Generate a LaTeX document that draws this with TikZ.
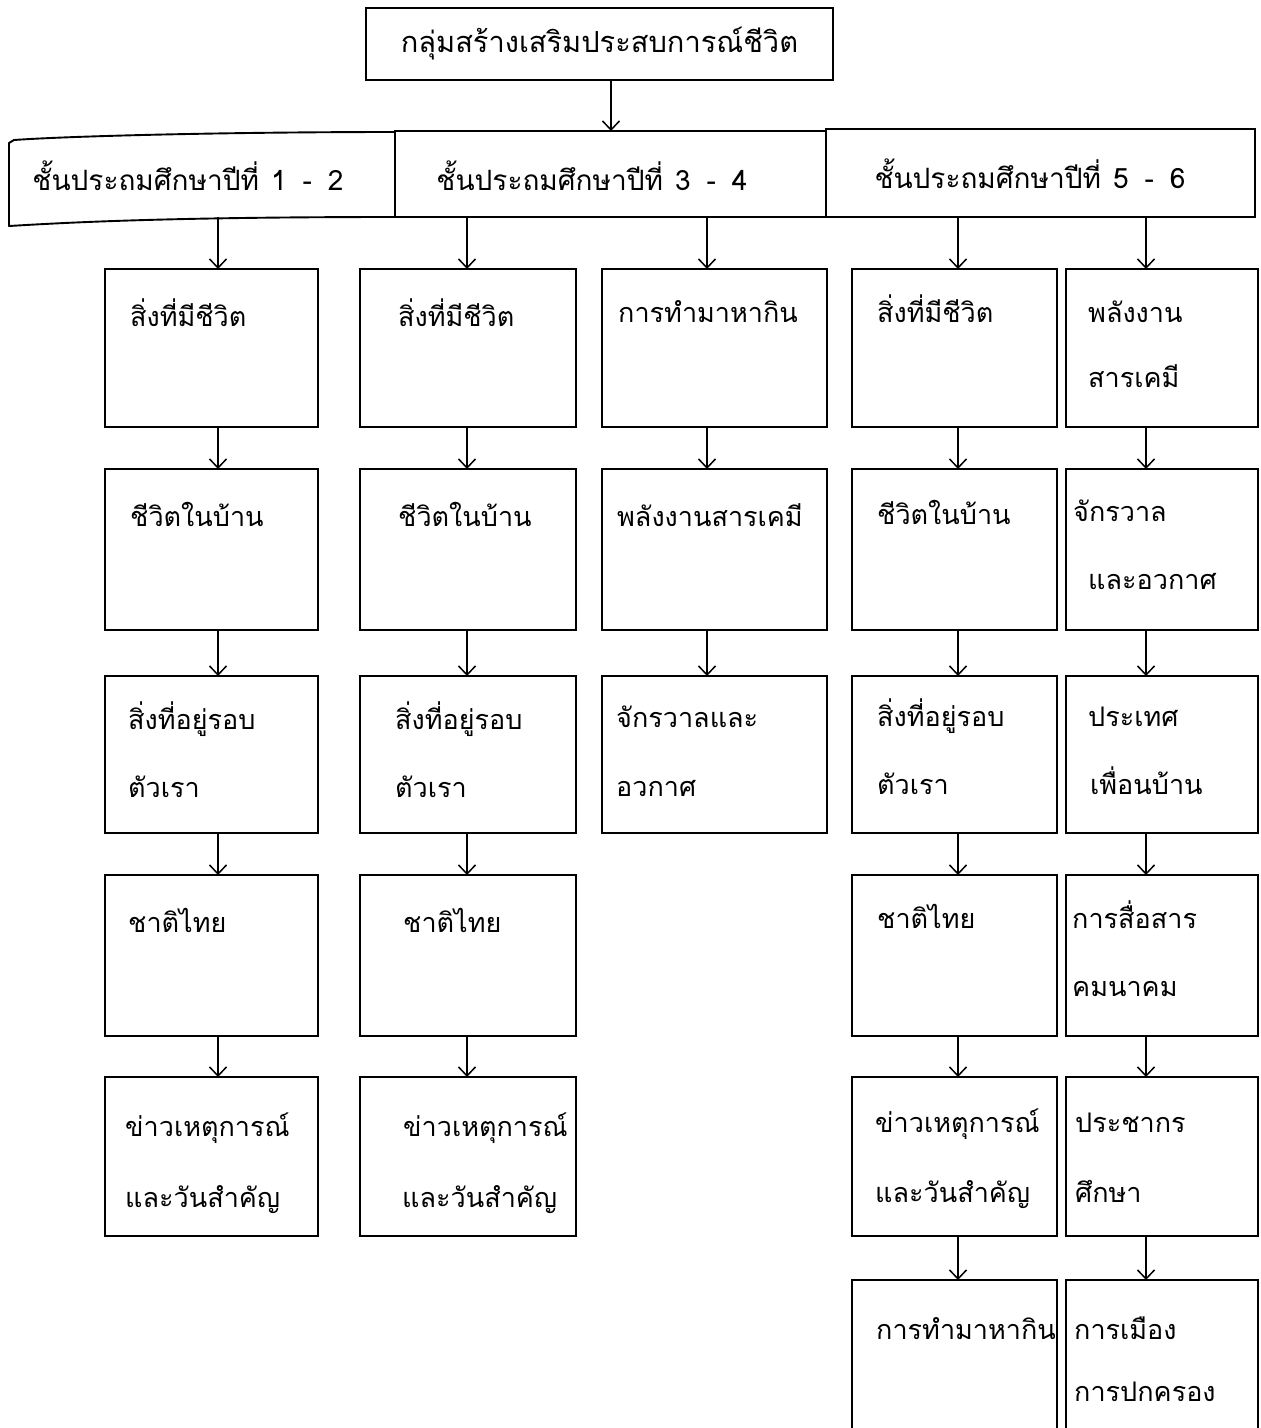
\documentclass[tikz,border=0pt]{standalone}
\usepackage{fontspec}
\newfontfamily\thai[Script=Thai]{Loma}
\usetikzlibrary{arrows.meta}
\begin{document}
\begin{tikzpicture}[x=1pt,y=-1pt,
  box/.style={draw, line width=1.9pt, rectangle, inner sep=0pt, outer sep=0pt},
  lbl/.style={font={\thai\fontsize{27}{31}\selectfont}, anchor=base west, inner sep=0pt},
  glbl/.style={font={\thai\fontsize{28}{32}\selectfont}, anchor=base, inner sep=0pt},
  arr/.style={line width=1.5pt, -{Straight Barb[length=9pt,width=17pt,line width=1.5pt]}},
  c1/.style={minimum width=213pt}, c2/.style={minimum width=216pt},
  c3/.style={minimum width=225pt}, c4/.style={minimum width=205pt},
  c5/.style={minimum width=192pt},
  r1/.style={minimum height=158pt}, r2/.style={minimum height=161pt},
  r3/.style={minimum height=157pt}, r4/.style={minimum height=161pt},
  r5/.style={minimum height=159pt}, r6/.style={minimum height=165pt}]
\useasboundingbox (0,0) rectangle (1261,1428);
\clip (0,0) rectangle (1261,1428);
\fill[white] (0,0) rectangle (1261,1428);

% arrow x positions
\coordinate (ax0) at (611,0);
\coordinate (ax1) at (218,0);
\coordinate (ax2) at (467,0);
\coordinate (ax3) at (707,0);
\coordinate (ax4) at (958,0);
\coordinate (ax5) at (1146,0);

% top box
\node[box, minimum width=467pt, minimum height=72pt, font={\thai\fontsize{29}{33}\selectfont}] (top) at (599.5,44) {กลุ่มสร้างเสริมประสบการณ์ชีวิต};

% grade band
\node[minimum width=387pt, minimum height=86pt, inner sep=0pt, outer sep=0pt] (g1) at (201.5,174) {};
\node[box, minimum width=431pt, minimum height=86pt] (g2) at (610.5,174) {};
\node[box, minimum width=429pt, minimum height=88pt] (g3) at (1040.5,173) {};
\draw[line width=1.9pt, line join=round] (395,132) .. controls (230,132) and (70,136) .. (14,140)
  -- (9,143) -- (9,226) .. controls (60,223) and (160,217) .. (395,217);
\node[glbl] (lg1) at (188,190) {ชั้นประถมศึกษาปีที่\hspace{12pt}1\hspace{16pt}-\hspace{16pt}2};
\node[glbl] (lg2) at (592,190) {ชั้นประถมศึกษาปีที่\hspace{12pt}3\hspace{16pt}-\hspace{16pt}4};
\node[glbl] (lg3) at (1030,188) {ชั้นประถมศึกษาปีที่\hspace{12pt}5\hspace{16pt}-\hspace{16pt}6};

% column 1
\node[box,c1,r1] (b11) at (211.5,348) {};
\node[box,c1,r2] (b12) at (211.5,549.5) {};
\node[box,c1,r3] (b13) at (211.5,754.5) {};
\node[box,c1,r4] (b14) at (211.5,955.5) {};
\node[box,c1,r5] (b15) at (211.5,1156.5) {};
% column 2
\node[box,c2,r1] (b21) at (468,348) {};
\node[box,c2,r2] (b22) at (468,549.5) {};
\node[box,c2,r3] (b23) at (468,754.5) {};
\node[box,c2,r4] (b24) at (468,955.5) {};
\node[box,c2,r5] (b25) at (468,1156.5) {};
% column 3
\node[box,c3,r1] (b31) at (714.5,348) {};
\node[box,c3,r2] (b32) at (714.5,549.5) {};
\node[box,c3,r3] (b33) at (714.5,754.5) {};
% column 4
\node[box,c4,r1] (b41) at (954.5,348) {};
\node[box,c4,r2] (b42) at (954.5,549.5) {};
\node[box,c4,r3] (b43) at (954.5,754.5) {};
\node[box,c4,r4] (b44) at (954.5,955.5) {};
\node[box,c4,r5] (b45) at (954.5,1156.5) {};
\node[box,c4,r6] (b46) at (954.5,1362.5) {};
% column 5
\node[box,c5,r1] (b51) at (1162,348) {};
\node[box,c5,r2] (b52) at (1162,549.5) {};
\node[box,c5,r3] (b53) at (1162,754.5) {};
\node[box,c5,r4] (b54) at (1162,955.5) {};
\node[box,c5,r5] (b55) at (1162,1156.5) {};
\node[box,c5,r6] (b56) at (1162,1362.5) {};

% labels column 1
\node[lbl] (t11) at (130,326) {สิ่งที่มีชีวิต};
\node[lbl] (t12) at (130,526) {ชีวิตในบ้าน};
\node[lbl] (t13a) at (128,729) {สิ่งที่อยู่รอบ};
\node[lbl] (t13b) at (128,797) {ตัวเรา};
\node[lbl] (t14) at (128,932) {ชาติไทย};
\node[lbl] (t15a) at (125,1136) {ข่าวเหตุการณ์};
\node[lbl] (t15b) at (125,1207) {และวันสำคัญ};
% labels column 2
\node[lbl] (t21) at (398,326) {สิ่งที่มีชีวิต};
\node[lbl] (t22) at (398,526) {ชีวิตในบ้าน};
\node[lbl] (t23a) at (395,729) {สิ่งที่อยู่รอบ};
\node[lbl] (t23b) at (395,797) {ตัวเรา};
\node[lbl] (t24) at (403,932) {ชาติไทย};
\node[lbl] (t25a) at (403,1136) {ข่าวเหตุการณ์};
\node[lbl] (t25b) at (402,1207) {และวันสำคัญ};
% labels column 3
\node[lbl] (t31) at (618,322) {การทำมาหากิน};
\node[lbl] (t32) at (617,526) {พลังงานสารเคมี};
\node[lbl] (t33a) at (616,727) {จักรวาลและ};
\node[lbl] (t33b) at (616,796) {อวกาศ};
% labels column 4
\node[lbl] (t41) at (877,322) {สิ่งที่มีชีวิต};
\node[lbl] (t42) at (877,524) {ชีวิตในบ้าน};
\node[lbl] (t43a) at (877,726) {สิ่งที่อยู่รอบ};
\node[lbl] (t43b) at (877,794) {ตัวเรา};
\node[lbl] (t44) at (877,928) {ชาติไทย};
\node[lbl] (t45a) at (875,1132) {ข่าวเหตุการณ์};
\node[lbl] (t45b) at (875,1202) {และวันสำคัญ};
\node[lbl] (t46) at (876,1339) {การทำมาหากิน};
% labels column 5
\node[lbl] (t51a) at (1088,322) {พลังงาน};
\node[lbl] (t51b) at (1088,387) {สารเคมี};
\node[lbl] (t52a) at (1073,521) {จักรวาล};
\node[lbl] (t52b) at (1088,589) {และอวกาศ};
\node[lbl] (t53a) at (1088,726) {ประเทศ};
\node[lbl] (t53b) at (1090,794) {เพื่อนบ้าน};
\node[lbl] (t54a) at (1072,928) {การสื่อสาร};
\node[lbl] (t54b) at (1072,996) {คมนาคม};
\node[lbl] (t55a) at (1075,1132) {ประชากร};
\node[lbl] (t55b) at (1075,1202) {ศึกษา};
\node[lbl] (t56a) at (1074,1339) {การเมือง};
\node[lbl] (t56b) at (1074,1401) {การปกครอง};

% connectors
\draw[arr] (top.south -| ax0) -- (g2.north -| ax0);
\draw[arr] (g1.south -| ax1) -- (b11.north -| ax1);
\draw[arr] (g2.south -| ax2) -- (b21.north -| ax2);
\draw[arr] (g2.south -| ax3) -- (b31.north -| ax3);
\draw[arr] (g3.south -| ax4) -- (b41.north -| ax4);
\draw[arr] (g3.south -| ax5) -- (b51.north -| ax5);
\foreach \c in {1,2} {
  \foreach \r/\s in {1/2,2/3,3/4,4/5} {
    \draw[arr] (b\c\r.south -| ax\c) -- (b\c\s.north -| ax\c);
  }
}
\foreach \r/\s in {1/2,2/3} {
  \draw[arr] (b3\r.south -| ax3) -- (b3\s.north -| ax3);
}
\foreach \c in {4,5} {
  \foreach \r/\s in {1/2,2/3,3/4,4/5,5/6} {
    \draw[arr] (b\c\r.south -| ax\c) -- (b\c\s.north -| ax\c);
  }
}
\end{tikzpicture}
\end{document}
